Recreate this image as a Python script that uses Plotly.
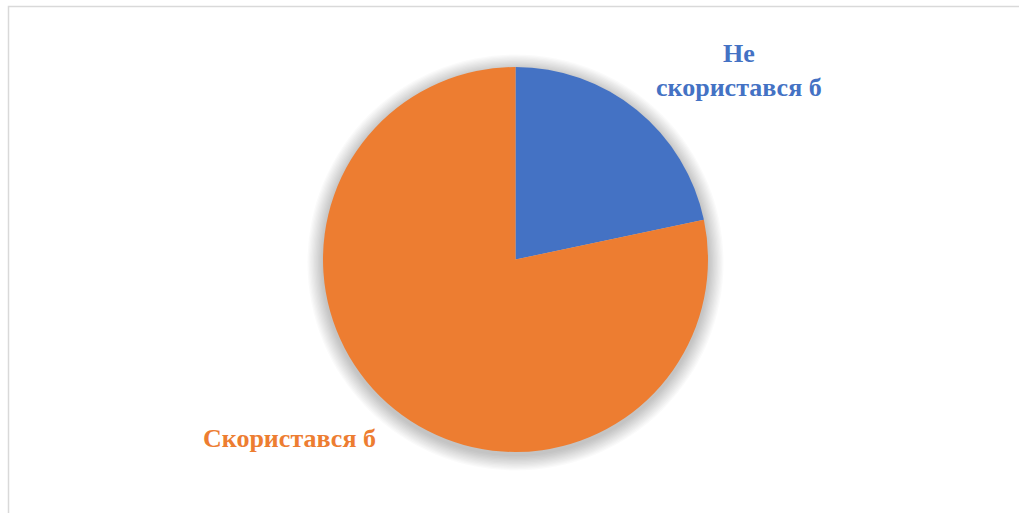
import plotly.graph_objects as go

# Share of respondents
labels = ["Не скористався б", "Скористався б"]
label_text = ["Не<br>скористався б", "Скористався б"]
values = [21.7, 78.3]
colors = ["#4472C4", "#ED7D31"]

W, H = 1019, 513
cx, cy, r = 515.5, 259.5, 192.5  # pie centre and radius in pixels (from top-left)

fig = go.Figure()
fig.add_trace(go.Pie(
    labels=labels,
    values=values,
    sort=False,
    direction="clockwise",
    rotation=0,
    marker=dict(colors=colors, line=dict(width=0)),
    textinfo="none",
    hoverinfo="label+percent",
    showlegend=False,
    domain=dict(x=[(cx - r) / W, (cx + r) / W],
                y=[(H - cy - r) / H, (H - cy + r) / H]),
))

# soft drop shadow behind the pie
shapes = []
for k in range(1, 13):
    shapes.append(dict(
        type="circle", layer="below",
        xref="paper", yref="paper",
        xsizemode="pixel", ysizemode="pixel",
        xanchor=cx / W, yanchor=(H - cy - 3) / H,
        x0=-(r + k * 1.3), x1=(r + k * 1.3),
        y0=-(r + k * 1.3), y1=(r + k * 1.3),
        fillcolor="rgba(0,0,0,0.02)", line=dict(width=0),
    ))
# chart frame
shapes.append(dict(
    type="rect", xref="paper", yref="paper",
    x0=8.5 / W, x1=1.02, y0=-0.02, y1=1 - 6.5 / H,
    line=dict(color="#d9d9d9", width=1.5), fillcolor="rgba(0,0,0,0)",
))

font_family = "Liberation Serif, Times New Roman, serif"
annotations = [
    dict(text=label_text[0], x=739 / W, y=1 - 70 / H, xref="paper", yref="paper",
         showarrow=False, xanchor="center", yanchor="middle", align="center",
         font=dict(family=font_family, size=26, color=colors[0], weight="bold")),
    dict(text=label_text[1], x=289 / W, y=1 - 438 / H, xref="paper", yref="paper",
         showarrow=False, xanchor="center", yanchor="middle", align="center",
         font=dict(family=font_family, size=26, color=colors[1], weight="bold")),
]

fig.update_layout(
    width=W, height=H,
    margin=dict(l=0, r=0, t=0, b=0),
    paper_bgcolor="white", plot_bgcolor="white",
    shapes=shapes,
    annotations=annotations,
)

fig.write_html("out.html")
